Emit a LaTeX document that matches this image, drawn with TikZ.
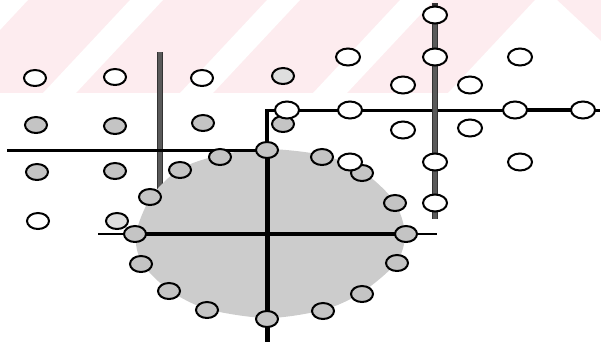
\documentclass[tikz,border=0pt]{standalone}
\usetikzlibrary{shapes.geometric}
\pgfdeclarelayer{band}
\pgfdeclarelayer{under}
\pgfdeclarelayer{disk}
\pgfdeclarelayer{axes}
\pgfsetlayers{band,under,disk,axes,main}
\definecolor{pinkbg}{RGB}{253,236,239}
\definecolor{shadegray}{RGB}{196,196,196}
\definecolor{lightshade}{RGB}{222,222,222}
\definecolor{diskgray}{RGB}{204,204,204}
\definecolor{rodgray}{RGB}{90,90,90}
\begin{document}
\begin{tikzpicture}[x=1pt,y=-1pt,
  dotbase/.style={ellipse,draw=black,line width=2pt,inner sep=0pt,minimum width=22pt,minimum height=16pt},
  wdot/.style={dotbase,fill=white},
  gdot/.style={dotbase,fill=shadegray},
  ldot/.style={dotbase,fill=lightshade},
  rdot/.style={dotbase,fill=white,minimum width=24pt,minimum height=17pt},
  thinaxis/.style={line width=3pt,draw=black},
  thickaxis/.style={line width=5pt,draw=black},
  stubaxis/.style={line width=2.2pt,draw=black},
  rod/.style={line width=5pt,draw=rodgray},
  whitestripe/.style={fill=white,draw=none}]
\useasboundingbox (0,0) rectangle (601,346);

% ---- left grid ----
\node[wdot] (L11) at (35,78) {};
\node[wdot] (L12) at (115,77) {};
\node[wdot] (L13) at (202,78) {};
\node[ldot] (L14) at (283,76) {};
\node[gdot] (L21) at (36,125) {};
\node[gdot] (L22) at (115,126) {};
\node[gdot] (L23) at (203,123) {};
\node[gdot] (L24) at (283,124) {};
\node[gdot] (L31) at (37,172) {};
\node[gdot] (L32) at (115,171) {};
\node[wdot] (L41) at (38,221) {};
\node[ldot] (L42) at (117,221) {};

% ---- disk edge circles ----
\node[gdot] (D1) at (267,150) {};
\node[gdot] (D2) at (322,157) {};
\node[gdot] (D3) at (362,173) {};
\node[gdot] (D4) at (395,203) {};
\node[gdot] (D5) at (406,234) {};
\node[gdot] (D6) at (397,263) {};
\node[gdot] (D7) at (362,294) {};
\node[gdot] (D8) at (323,311) {};
\node[gdot] (D9) at (267,319) {};
\node[gdot] (D10) at (207,310) {};
\node[gdot] (D11) at (169,291) {};
\node[gdot] (D12) at (141,264) {};
\node[gdot] (D13) at (135,234) {};
\node[gdot] (D14) at (150,197) {};
\node[gdot] (D15) at (180,170) {};
\node[gdot] (D16) at (220,157) {};

% ---- right grid ----
\node[rdot] (RA1) at (435,15) {};
\node[rdot] (RA2) at (435,57) {};
\node[rdot] (RA3) at (435,162) {};
\node[rdot] (RA4) at (435,203) {};
\node[rdot] (RH1) at (287,110) {};
\node[rdot] (RH2) at (350,110) {};
\node[rdot] (RH3) at (515,110) {};
\node[rdot] (RH4) at (583,110) {};
\node[rdot] (RG1) at (348,57) {};
\node[rdot] (RG2) at (520,57) {};
\node[rdot] (RG3) at (403,85) {};
\node[rdot] (RG4) at (470,85) {};
\node[rdot] (RG5) at (403,130) {};
\node[rdot] (RG6) at (470,128) {};
\node[rdot] (RG7) at (350,162) {};
\node[rdot] (RG8) at (520,162) {};

% ---- free line ends ----
\coordinate (LVtop) at (160,52);
\coordinate (LVbot) at (160,192);
\coordinate (LHleft) at (7,150);
\coordinate (Junc) at (267,110);
\coordinate (RHleft) at (265,110);
\coordinate (RHright) at (600,110);
\coordinate (DVbot) at (267,342);
\coordinate (DHleft) at (98,234);
\coordinate (DHright) at (437,234);
\coordinate (RVtop) at (435,3);
\coordinate (RVbot) at (435,219);

% ---- background band ----
\begin{pgfonlayer}{band}
  \begin{scope}
    \clip (0,0) rectangle (601,93);
    \fill[pinkbg] (0,0) rectangle (601,93);
    \fill[whitestripe] (-5,0) -- (28,0) -- (-59,93) -- (-92,93) -- cycle;
    \fill[whitestripe] (130,0) -- (163,0) -- (76,93) -- (43,93) -- cycle;
    \fill[whitestripe] (267,0) -- (300,0) -- (213,93) -- (180,93) -- cycle;
    \fill[whitestripe] (400,0) -- (434,0) -- (347,93) -- (313,93) -- cycle;
    \fill[whitestripe] (535,0) -- (557,0) -- (601,41) -- (601,93) -- (448,93) -- cycle;
  \end{scope}
\end{pgfonlayer}

% ---- rods under the disk ----
\begin{pgfonlayer}{under}
  \draw[line width=6pt,draw=black!80] (LVtop) -- (LVbot);
  \draw[rod,line width=3.5pt] (LVtop) -- (LVbot);
\end{pgfonlayer}

% ---- disk ----
\begin{pgfonlayer}{disk}
  \fill[diskgray] plot[smooth cycle,tension=0.5] coordinates {
    (267,149) (322,155) (362,171) (394,201) (405,234) (396,263) (361,293)
    (323,310) (267,318) (207,309) (169,290) (142,263) (136,234) (151,197)
    (180,169) (220,155)};
\end{pgfonlayer}

% ---- axes ----
\begin{pgfonlayer}{axes}
  \draw[thinaxis] (LHleft) -- (D1.center);
  \draw[thinaxis] (RHleft) -- (RH1.center) -- (RH2.center) -- (RH3.center);
  \draw[line width=3.8pt] (RH3.center) -- (RH4.center);
  \draw[thinaxis] (RH4.center) -- (RHright);
  \draw[line width=6pt,draw=black!80] (RVtop) -- (RVbot);
  \draw[rod,line width=3.5pt] (RA1.center) -- (RVbot);
  \draw[line width=4pt] (Junc) -- (D1.center);
  \draw[thickaxis] (D1.center) -- (D9.center);
  \draw[thickaxis] (D9.center) -- (DVbot);
  \draw[line width=4pt] (D13.center) -- (D5.center);
  \draw[stubaxis] (DHleft) -- (D13.center);
  \draw[stubaxis] (D5.center) -- (DHright);
\end{pgfonlayer}
\end{tikzpicture}
\end{document}
